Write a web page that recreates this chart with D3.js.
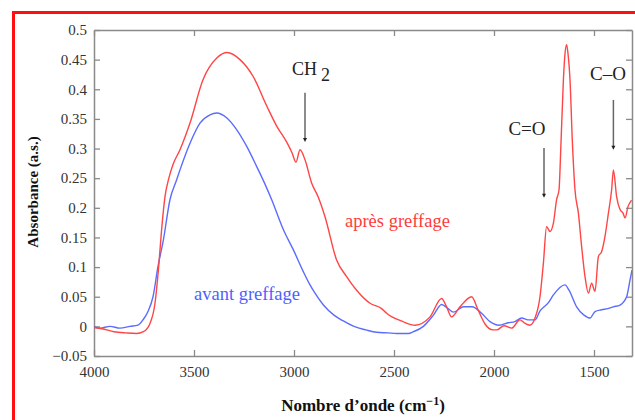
<!DOCTYPE html>
<html><head><meta charset="utf-8">
<script src="https://cdn.jsdelivr.net/npm/d3@7"></script>
<style>
html,body{margin:0;padding:0;background:#fff;}
svg{display:block;}
text{font-family:"Liberation Serif","DejaVu Serif",serif;}
</style></head>
<body>
<svg id="chart" width="635" height="420"></svg>
<script>
// ---- data ----
const apresWn = [4000,3960,3900,3840,3787,3753,3720,3695,3678,3662,3645,3628,3605,3570,3520,3455,3385,3335,3270,3205,3135,3085,3035,3010,2990,2970,2945,2912,2880,2845,2787,2737,2687,2620,2562,2537,2455,2395,2320,2262,2237,2212,2170,2112,2080,2045,2005,1987,1950,1912,1870,1845,1820,1795,1770,1753,1737,1720,1703,1687,1675,1665,1653,1645,1637,1630,1620,1608,1595,1578,1562,1545,1528,1512,1495,1478,1462,1445,1428,1412,1403,1387,1370,1355,1345,1330,1312];
const apresAbs = [-0.002,-0.004,-0.009,-0.011,-0.012,-0.009,0.005,0.039,0.095,0.163,0.219,0.247,0.273,0.298,0.343,0.416,0.453,0.462,0.450,0.422,0.371,0.337,0.310,0.293,0.277,0.298,0.281,0.242,0.219,0.185,0.112,0.084,0.061,0.039,0.030,0.022,0.008,0.002,0.016,0.047,0.033,0.016,0.033,0.050,0.028,0.004,-0.006,-0.006,0.001,-0.003,0.011,0.005,0.002,0.014,0.050,0.107,0.168,0.160,0.174,0.214,0.230,0.310,0.416,0.460,0.475,0.460,0.416,0.310,0.230,0.191,0.135,0.084,0.056,0.073,0.059,0.118,0.126,0.152,0.191,0.230,0.264,0.219,0.197,0.191,0.183,0.202,0.213];
const avantWn = [4000,3970,3920,3870,3820,3780,3755,3730,3705,3680,3653,3620,3587,3570,3520,3470,3420,3387,3337,3287,3237,3187,3145,3112,3053,3003,2953,2920,2895,2853,2800,2758,2700,2640,2587,2530,2487,2428,2403,2353,2303,2262,2230,2203,2153,2110,2062,2020,1975,1930,1895,1862,1830,1795,1770,1728,1703,1645,1625,1587,1550,1520,1495,1462,1430,1403,1370,1337,1320,1310];
const avantAbs = [-0.001,-0.003,0.000,-0.003,0.000,0.002,0.011,0.025,0.050,0.101,0.146,0.214,0.247,0.264,0.309,0.343,0.357,0.360,0.352,0.332,0.304,0.270,0.240,0.214,0.163,0.129,0.092,0.070,0.056,0.036,0.019,0.010,0.000,-0.006,-0.010,-0.011,-0.012,-0.012,-0.009,0.000,0.019,0.037,0.030,0.024,0.033,0.033,0.022,0.008,0.002,0.006,0.008,0.014,0.011,0.011,0.026,0.040,0.053,0.070,0.061,0.033,0.019,0.014,0.025,0.028,0.030,0.033,0.036,0.050,0.078,0.095];
const xTicks = [4000,3500,3000,2500,2000,1500];
const xTickLabels = ["4000","3500","3000","2500","2000","1500"];
const yTicks = [0.5,0.45,0.4,0.35,0.3,0.25,0.2,0.15,0.1,0.05,0,-0.05];
const yTickLabels = ["0.5","0.45","0.4","0.35","0.3","0.25","0.2","0.15","0.1","0.05","0","\u22120.05"];
const seriesNames = ["après greffage","avant greffage"];
const annotations = [
  {label:"CH", sub:"2", wn:2945, top:0.394, bottom:0.316},
  {label:"C=O", wn:1750, top:0.301, bottom:0.222},
  {label:"C\u2013O", wn:1403, top:0.382, bottom:0.303}
];

const svg = d3.select("#chart");
const x = d3.scaleLinear().domain([4000,1310]).range([94,632]);
const y = d3.scaleLinear().domain([-0.05,0.5]).range([356,30]);

// red outer frame
svg.append("rect").attr("x",13.5).attr("y",12.5).attr("width",640).attr("height",420)
  .attr("fill","none").attr("stroke","#ff1010").attr("stroke-width",3);

const axisColor = "#8a8a8a";
function styleAxis(g){
  g.selectAll(".domain").attr("stroke",axisColor).attr("stroke-width",1.5);
  g.selectAll(".tick line").attr("stroke",axisColor).attr("stroke-width",1.3);
  g.selectAll(".tick text").attr("fill","#333").attr("font-size",15)
    .attr("font-family","'Liberation Serif',serif");
}
svg.append("g").attr("transform","translate(0,356)")
  .call(d3.axisBottom(x).tickValues(xTicks).tickFormat((d,i)=>xTickLabels[i]).tickSizeInner(-6).tickSizeOuter(0).tickPadding(10))
  .call(styleAxis);
svg.append("g").attr("transform","translate(0,30)")
  .call(d3.axisTop(x).tickValues(xTicks).tickFormat("").tickSizeInner(-6).tickSizeOuter(0))
  .call(styleAxis);
svg.append("g").attr("transform","translate(94,0)")
  .call(d3.axisLeft(y).tickValues(yTicks).tickFormat((d,i)=>yTickLabels[i]).tickSizeInner(-6).tickSizeOuter(0).tickPadding(7))
  .call(styleAxis);
svg.append("g").attr("transform","translate(632,0)")
  .call(d3.axisRight(y).tickValues(yTicks).tickFormat("").tickSizeInner(-6).tickSizeOuter(0))
  .call(styleAxis);

// curves
const line = d3.line().x(d=>x(d[0])).y(d=>y(d[1])).curve(d3.curveMonotoneX);
svg.append("clipPath").attr("id","clip").append("rect")
  .attr("x",94).attr("y",30).attr("width",538).attr("height",326);
const avantData = avantWn.map((w,i)=>[w,avantAbs[i]]);
const apresData = apresWn.map((w,i)=>[w,apresAbs[i]]);
svg.append("path").datum(avantData).attr("d",line).attr("fill","none")
  .attr("stroke","#5b6cff").attr("stroke-width",1.4).attr("clip-path","url(#clip)");
svg.append("path").datum(apresData).attr("d",line).attr("fill","none")
  .attr("stroke","#ff4545").attr("stroke-width",1.4).attr("clip-path","url(#clip)");

// annotation arrows
annotations.forEach(a=>{
  svg.append("line").attr("x1",x(a.wn)).attr("x2",x(a.wn)).attr("y1",y(a.top)).attr("y2",y(a.bottom))
    .attr("stroke","#666").attr("stroke-width",1.5);
  svg.append("path").attr("d",`M${x(a.wn)-2},${y(a.bottom)-1} L${x(a.wn)+2},${y(a.bottom)-1} L${x(a.wn)},${y(a.bottom)+3} Z`)
    .attr("fill","#222");
});
// annotation labels
const ch = svg.append("text").attr("x",292).attr("y",75).attr("font-size",18).attr("fill","#222");
ch.append("tspan").text(annotations[0].label);
ch.append("tspan").attr("dx",4).attr("dy",6).text(annotations[0].sub);
svg.append("text").attr("x",527).attr("y",135).attr("text-anchor","middle").attr("font-size",19)
  .attr("fill","#222").text(annotations[1].label);
svg.append("text").attr("x",608).attr("y",80).attr("text-anchor","middle").attr("font-size",19)
  .attr("fill","#222").text(annotations[2].label);

// series labels
svg.append("text").attr("x",345).attr("y",227).attr("font-size",18.5).attr("fill","#ff3b3b").text(seriesNames[0]);
svg.append("text").attr("x",194).attr("y",300).attr("font-size",18.5).attr("fill","#4f5fff").text(seriesNames[1]);

// axis titles
const xt = svg.append("text").attr("x",363).attr("y",411).attr("text-anchor","middle")
  .attr("font-size",17).attr("font-weight","bold").attr("fill","#111");
xt.append("tspan").text("Nombre d\u2019onde (cm");
xt.append("tspan").attr("dy",-6).attr("font-size",12).text("\u22121");
xt.append("tspan").attr("dy",6).text(")");
svg.append("text").attr("transform","translate(38,192) rotate(-90)").attr("text-anchor","middle")
  .attr("font-size",15).attr("font-weight","bold").attr("fill","#111").text("Absorbance (a.s.)");
</script>
</body></html>
